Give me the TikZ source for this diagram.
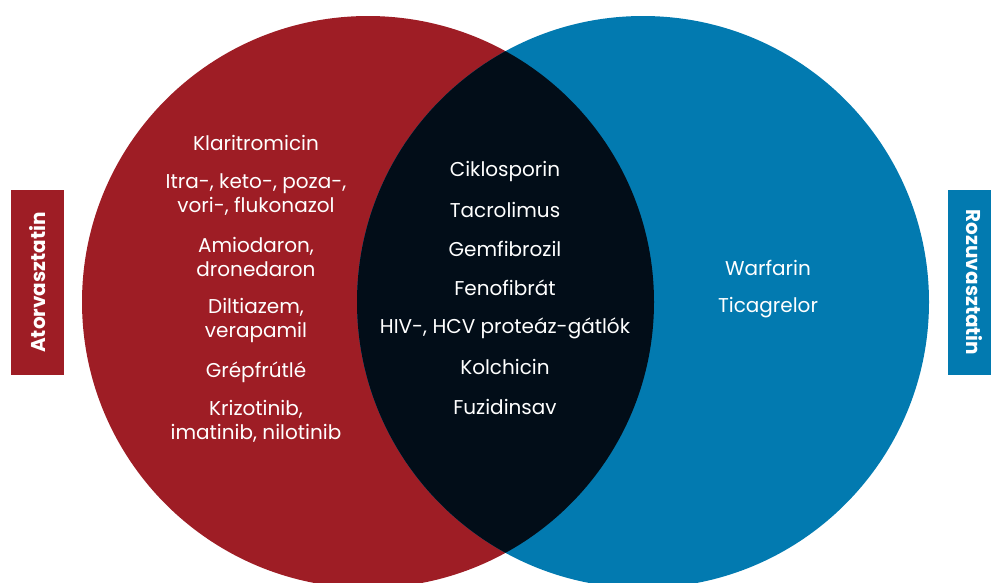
\documentclass[tikz,border=0pt]{standalone}
\usepackage{fontspec}
\setmainfont{Poppins}
\usepackage{xcolor}

\definecolor{atorred}{HTML}{9E1D25}
\definecolor{rozublue}{HTML}{027AB0}
\definecolor{overlapdark}{HTML}{020D18}

\tikzset{
  drug/.style={text=white,align=center,font=\fontsize{20}{24}\selectfont},
  sidebox/.style={minimum width=53pt,minimum height=185pt,inner sep=0pt},
  sidelabel/.style={text=white,font=\bfseries\fontsize{20}{22}\selectfont},
}

\begin{document}
\begin{tikzpicture}[x=1pt,y=-1pt]
  \clip (0,0) rectangle (991,582);
  % circles
  \coordinate (ator) at (368,302);
  \coordinate (rozu) at (643,302);
  \fill[atorred] (ator) circle (286);
  \fill[rozublue] (rozu) circle (286);
  \begin{scope}
    \clip (ator) circle (286);
    \fill[overlapdark] (rozu) circle (286);
  \end{scope}
  % side labels
  \node[sidebox,fill=atorred] (atorbox) at (37.5,282.5) {};
  \node[sidelabel,rotate=90] (atorlabel) at (atorbox) {Atorvasztatin};
  \node[sidebox,fill=rozublue] (rozubox) at (974.5,282.5) {};
  \node[sidelabel,rotate=-90] (rozulabel) at (rozubox) {Rozuvasztatin};
  % atorvastatin only
  \node[drug] (klari) at (256,143) {Klaritromicin};
  \node[drug] (azol) at (256,195) {Itra-, keto-, poza-,\\vori-, flukonazol};
  \node[drug] (amio) at (256,256.5) {Amiodaron,\\dronedaron};
  \node[drug] (dilt) at (256,320) {Diltiazem,\\verapamil};
  \node[drug] (grep) at (256,372) {Grépfrútlé};
  \node[drug] (kriz) at (256,421.5) {Krizotinib,\\imatinib, nilotinib};
  % both
  \node[drug] (cikl) at (505,171) {Ciklosporin};
  \node[drug] (tacr) at (505,210) {Tacrolimus};
  \node[drug] (gemf) at (505,249) {Gemfibrozil};
  \node[drug] (feno) at (505,288) {Fenofibrát};
  \node[drug] (prot) at (505,328) {HIV-, HCV proteáz-gátlók};
  \node[drug] (kolc) at (505,367) {Kolchicin};
  \node[drug] (fuzi) at (505,407) {Fuzidinsav};
  % rosuvastatin only
  \node[drug] (warf) at (768,268) {Warfarin};
  \node[drug] (tica) at (768,308) {Ticagrelor};
\end{tikzpicture}
\end{document}
